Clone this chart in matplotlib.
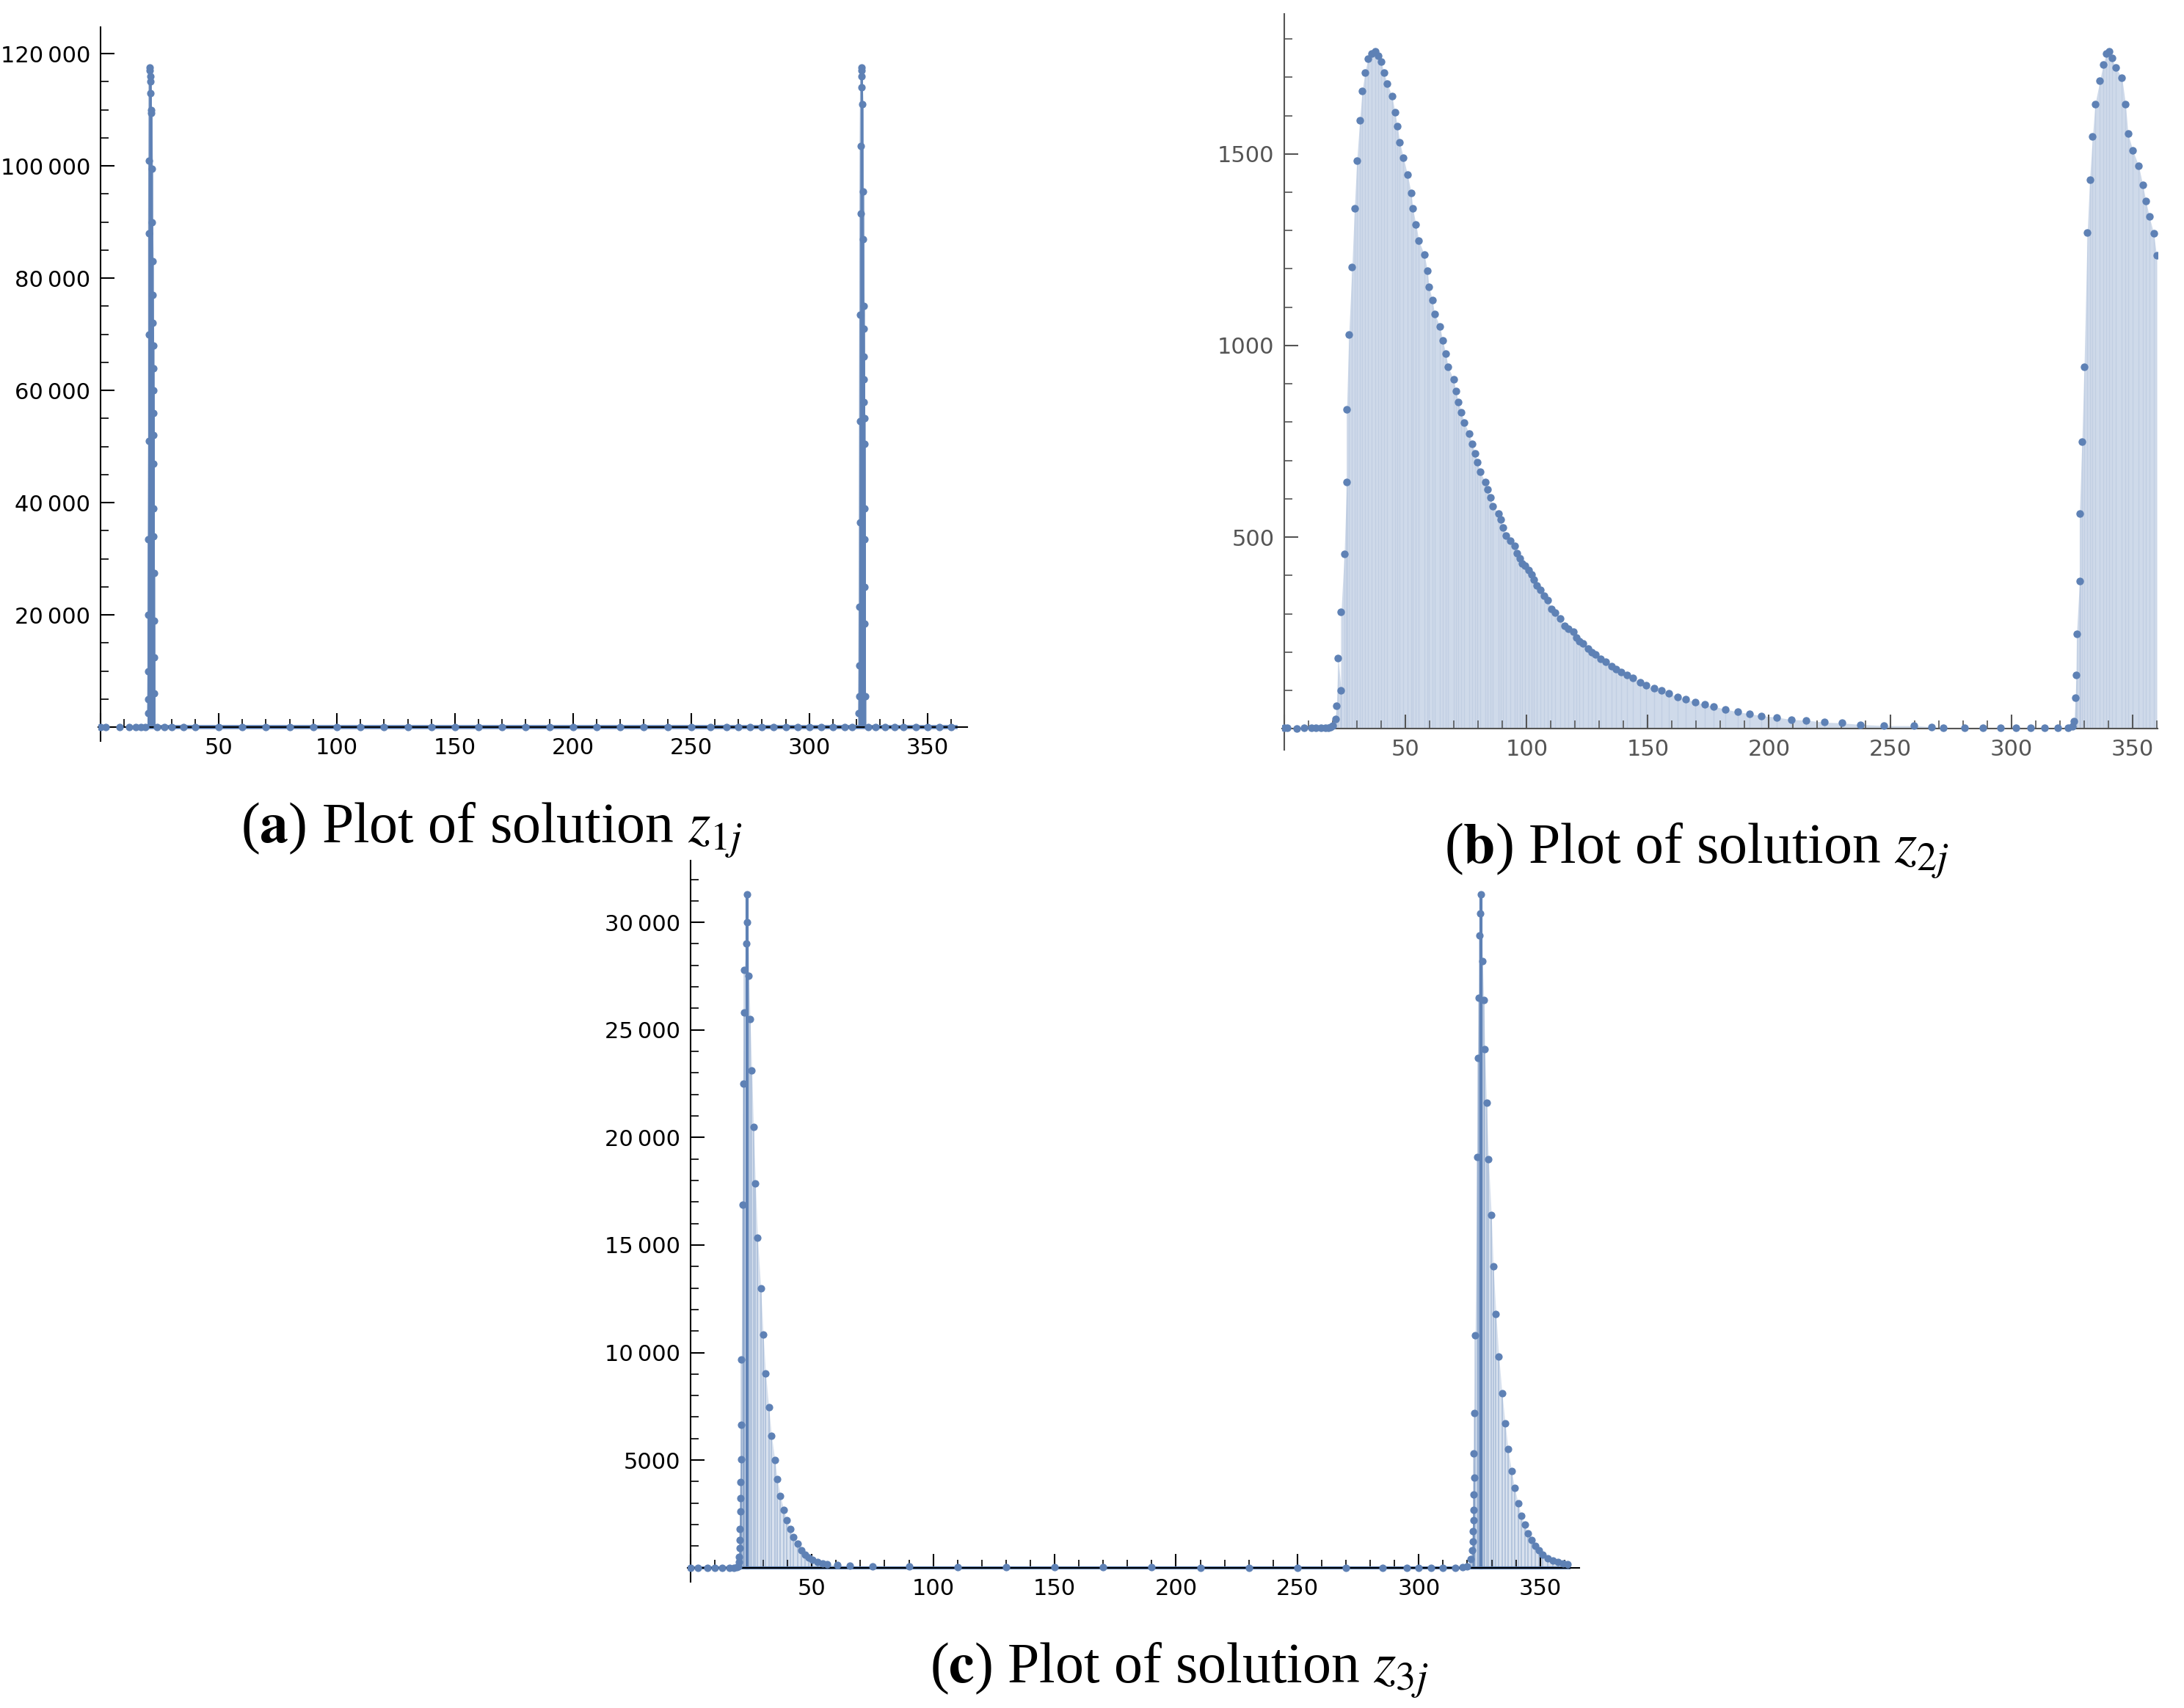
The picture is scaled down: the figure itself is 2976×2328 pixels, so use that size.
import numpy as np
import matplotlib
matplotlib.use("Agg")
import matplotlib.pyplot as plt
from matplotlib.ticker import MultipleLocator, FuncFormatter

plt.rcParams['mathtext.fontset'] = 'stix'

# ---- data ----
# (a) z_1j : spikes near j~21 and j~322, almost zero elsewhere
a_x = [20.0, 20.1, 20.2, 20.2, 20.3, 20.5, 20.5, 20.5, 20.6, 20.7, 20.8, 21.0, 21.1, 21.2,
       21.3, 21.5, 21.7, 21.8, 22.0, 22.0, 22.1, 22.2, 22.2, 22.2, 22.3, 22.3, 22.4, 22.4,
       22.4, 22.5, 22.5, 22.5, 22.6,
       321.0, 321.1, 321.2, 321.3, 321.4, 321.5, 321.6, 321.7, 321.8, 322.0, 322.1, 322.2,
       322.3, 322.5, 322.7, 322.8, 323.0, 323.0, 323.1, 323.2, 323.2, 323.3, 323.3, 323.4,
       323.4, 323.5, 323.5, 323.6]
a_y = [2500, 5000, 10000, 20000, 33500, 51000, 70000, 88000, 101000, 117500, 117000,
       116000, 115000, 113000, 110000, 109500, 99500, 90000, 83000, 77000, 72000, 68000,
       64000, 60000, 56000, 52000, 47000, 39000, 34000, 27500, 19000, 12500, 6000,
       2500, 5500, 11000, 21500, 36500, 54500, 73500, 91500, 103500, 117500, 117000, 116000,
       114000, 111000, 95500, 87000, 75000, 71000, 66000, 62000, 58000, 55000, 50500, 39000,
       33500, 25000, 18500, 5500]
a_base_x = [0, 2, 8, 12, 15, 17, 19, 24, 27, 30, 35, 40, 50, 60, 70, 80, 90, 100, 110,
            120, 130, 140, 150, 160, 170, 180, 190, 200, 210, 220, 230, 240, 250, 258,
            265, 270, 275, 280, 285, 290, 295, 300, 305, 310, 315, 318, 325, 328, 332,
            336, 340, 345, 350, 355, 360]

# (b) z_2j
b_x = [0, 1, 5, 8, 11, 13, 15, 17, 18, 19, 20, 21, 21.5, 22.2, 23.4, 23.4, 24.7, 25.7, 25.7,
       26.6, 27.9, 28.9, 29.9, 31.1, 32.1, 33.3, 34.5, 36.0, 37.5, 38.7, 40.0, 41.0, 42.4,
       44.4, 45.6, 46.6, 47.6, 49.1, 50.8, 52.3, 53.0, 54.3, 55.5, 57.7, 59.0, 59.7, 61.0,
       62.0, 64.2, 65.3, 66.6, 67.6, 69.8, 70.8, 71.8, 73.0, 74.3, 76.2, 77.5, 78.7, 79.7,
       80.7, 82.9, 83.9, 85.1, 86.1, 88.3, 89.3, 90.3, 91.5, 93.3, 95.2, 96.0, 97.2, 98.2,
       99.4, 100.9, 101.9, 102.9, 104.1, 105.6, 107.3, 108.8, 110.3, 111.8, 113.7, 115.7,
       117.2, 119.2, 120.4, 121.6, 123.1, 125.3, 127.0, 128.5, 130.5, 132.7, 134.9, 136.9,
       138.9, 141.4, 143.8, 146.8, 149.3, 152.5, 155.7, 158.6, 162.3, 165.5, 169.7, 173.5,
       177.2, 182.1, 187.0, 192.0, 196.9, 203.1, 209.2, 215.4, 222.8, 230.2, 237.6, 247.5,
       259.8, 267.2, 272.0, 280.8, 288.2, 295.6, 301.8, 308.0, 313.7, 319.1, 323.5, 325.2,
       326.0, 326.5, 326.8, 327.0, 328.2, 328.2, 329.2, 330.1, 331.4, 332.4, 333.6, 334.6,
       336.6, 338.0, 339.3, 340.5, 341.5, 343.0, 345.7, 347.2, 348.2, 350.2, 352.6, 354.3,
       355.6, 357.0, 358.8, 360.0]
b_y = [2, 2, 1, 2, 2, 2, 2, 3, 3, 4, 8, 25, 60, 184, 101, 304, 456, 644, 834, 1029, 1204,
       1357, 1483, 1587, 1664, 1713, 1749, 1762, 1768, 1757, 1740, 1713, 1684, 1651, 1609,
       1573, 1531, 1490, 1446, 1399, 1357, 1316, 1273, 1238, 1196, 1154, 1119, 1083, 1049,
       1014, 979, 944, 911, 881, 853, 826, 798, 771, 743, 718, 696, 671, 644, 624, 603, 581,
       561, 546, 525, 504, 491, 478, 458, 444, 432, 425, 414, 402, 389, 373, 362, 347, 336,
       313, 303, 288, 268, 261, 253, 238, 229, 222, 210, 200, 194, 182, 174, 164, 156, 148,
       140, 132, 122, 114, 105, 100, 93, 83, 77, 70, 63, 58, 51, 44, 39, 34, 30, 24, 22, 17,
       15, 11, 8, 8, 5, 3, 3, 3, 3, 3, 3, 3, 3, 3, 7, 20, 81, 141, 248, 386, 561, 749, 944,
       1294, 1433, 1546, 1629, 1691, 1734, 1762, 1768, 1751, 1726, 1699, 1629, 1553, 1509,
       1469, 1419, 1377, 1336, 1293, 1235]

# (c) z_3j
c_x = [0, 3, 7, 10, 13, 16, 18, 19, 19.6, 20.0, 20.1, 20.2, 20.3, 20.4, 20.5, 20.6, 20.7,
       20.8, 20.9, 21.0, 21.4, 21.7, 22.2, 22.2, 23.1, 23.3, 23.5, 24.1, 24.6, 25.3, 26.0,
       26.8, 27.7, 29.0, 30.0, 31.0, 32.3, 33.4, 34.8, 35.8, 37.1, 38.4, 39.8, 41.1, 42.4,
       44.2, 45.7, 47.2, 48.8, 50.3, 52.3, 54.4, 56.4, 60.5, 65.6, 75, 90, 110, 130, 150,
       170, 190, 210, 230, 250, 270, 285, 295, 300, 305, 310, 315, 318, 320, 321.5, 322.0,
       322.2, 322.4, 322.5, 322.6, 322.6, 322.7, 322.8, 322.9, 323.2, 324.0, 324.3, 324.7,
       325.1, 325.3, 325.5, 326.2, 326.8, 327.2, 327.9, 328.7, 329.9, 330.7, 331.8, 333.0,
       334.3, 335.6, 336.8, 338.2, 339.5, 340.9, 342.2, 343.6, 345.0, 346.5, 347.9, 349.5,
       351.1, 353.2, 355.3, 357.4, 359.6, 361.2]
c_y = [0, 0, 0, 0, 0, 0, 5, 15, 60, 250, 500, 900, 1300, 1800, 2630, 3220, 3970, 5040,
       6640, 9670, 16860, 22500, 25800, 27800, 29000, 30000, 31300, 27500, 25500, 23100,
       20500, 17850, 15330, 12980, 10850, 9030, 7460, 6140, 5020, 4100, 3330, 2700, 2190,
       1800, 1430, 1100, 810, 610, 460, 350, 260, 200, 150, 110, 90, 60, 40, 25, 15, 10,
       8, 6, 5, 4, 3, 2, 2, 1, 1, 1, 2, 5, 15, 60, 400, 800, 1200, 1700, 2200, 2700, 3400,
       5300, 4200, 7200, 10800, 19100, 23700, 26500, 29400, 30400, 31300, 28200, 26400,
       24100, 21600, 19000, 16400, 14000, 11800, 9800, 8100, 6700, 5500, 4500, 3700, 3000,
       2400, 2000, 1600, 1300, 1000, 800, 600, 440, 330, 260, 200, 150]

PT = '#5e81b5'
FILL = '#cfdaea'


def fmt_num(v, pos):
    v = int(round(v))
    if v == 0:
        return ''
    s = str(v)
    if v >= 10000:
        s = s[:-3] + '\u2009' + s[-3:]
    return s


def style_axes(ax, xlim, ylim, ymaj, ymin, labcol):
    ax.set_xlim(*xlim)
    ax.set_ylim(*ylim)
    for s in ['top', 'right']:
        ax.spines[s].set_visible(False)
    ax.spines['left'].set_position(('data', 0))
    ax.spines['bottom'].set_position(('data', 0))
    for s in ['left', 'bottom']:
        ax.spines[s].set_color(labcol)
        ax.spines[s].set_linewidth(1.5)
    ax.xaxis.set_major_locator(MultipleLocator(50))
    ax.xaxis.set_minor_locator(MultipleLocator(10))
    ax.yaxis.set_major_locator(MultipleLocator(ymaj))
    ax.yaxis.set_minor_locator(MultipleLocator(ymin))
    ax.xaxis.set_major_formatter(FuncFormatter(fmt_num))
    ax.yaxis.set_major_formatter(FuncFormatter(fmt_num))
    ax.tick_params(which='major', direction='in', length=14, width=1.5,
                   labelsize=22, labelcolor=labcol, color=labcol, pad=10)
    ax.tick_params(which='minor', direction='in', length=8, width=1.2, color=labcol)


fig = plt.figure(figsize=(29.76, 23.28), dpi=100)

# (a)
ax1 = fig.add_axes([0.045, 0.566, 0.398, 0.418])
ax1.vlines(a_x, 0, a_y, color=PT, lw=2, alpha=0.6)
ax1.plot(a_x[:33], a_y[:33], color=PT, lw=2, alpha=0.6)
ax1.plot(a_x[33:], a_y[33:], color=PT, lw=2, alpha=0.6)
ax1.plot([15, 362], [0, 0], color=PT, lw=4)
ax1.scatter(a_base_x, np.zeros(len(a_base_x)), s=40, color=PT, zorder=3)
ax1.scatter(a_x, a_y, s=40, color=PT, zorder=3)
style_axes(ax1, (-1, 367), (-2500, 124700), 20000, 5000, 'black')

# (b)
ax2 = fig.add_axes([0.587, 0.561, 0.401, 0.431])
ax2.fill_between(b_x, 0, b_y, color=FILL, lw=0)
ax2.vlines(b_x, 0, b_y, color=PT, lw=1, alpha=0.12)
ax2.scatter(b_x, b_y, s=42, color=PT, zorder=3)
style_axes(ax2, (-1, 360.5), (-55, 1866), 500, 100, '#555555')

# (c)
ax3 = fig.add_axes([0.315, 0.074, 0.408, 0.422])
ax3.fill_between(c_x, 0, c_y, color=FILL, lw=0, alpha=0.8)
ax3.vlines(c_x, 0, c_y, color=PT, lw=1.2, alpha=0.35)
ax3.plot([23.5, 23.5], [0, 31300], color=PT, lw=3)
ax3.plot([325.5, 325.5], [0, 31300], color=PT, lw=3)
ax3.plot([0, 362], [0, 0], color=PT, lw=3)
ax3.scatter(c_x, c_y, s=40, color=PT, zorder=3)
style_axes(ax3, (-1, 366), (-650, 32860), 5000, 1000, 'black')

cap = dict(fontsize=56, family='Liberation Serif', ha='center', va='center')
fig.text(0.225, 0.514, r'($\mathbf{a}$) Plot of solution $z_{1j}$', **cap)
fig.text(0.777, 0.502, r'($\mathbf{b}$) Plot of solution $z_{2j}$', **cap)
fig.text(0.540, 0.022, r'($\mathbf{c}$) Plot of solution $z_{3j}$', **cap)

fig.savefig('out.png', dpi=100)
